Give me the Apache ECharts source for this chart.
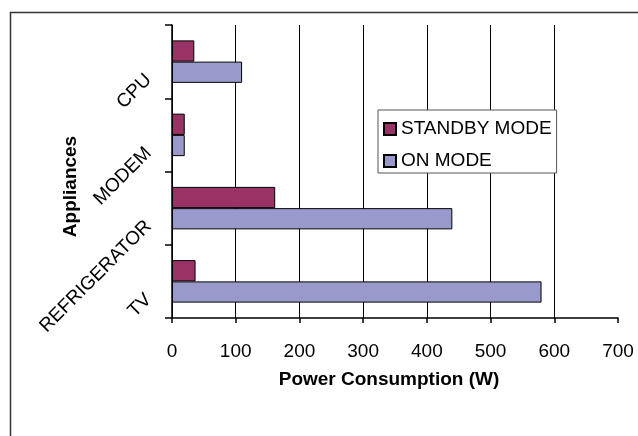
<!DOCTYPE html>
<html>
<head>
<meta charset="utf-8">
<script src="https://cdn.jsdelivr.net/npm/echarts@6/dist/echarts.min.js"></script>
<style>html,body{margin:0;padding:0;background:#fff}#c{width:638px;height:436px}</style>
</head>
<body>
<div id="c"></div>
<script>
var categories = ['CPU', 'MODEM', 'REFRIGERATOR', 'TV'];
var standbyMode = [35, 20, 162, 37];
var onMode = [110, 20, 440, 580];
var seriesNames = ['STANDBY MODE', 'ON MODE'];
var xTicks = [0, 100, 200, 300, 400, 500, 600, 700];

var chart = echarts.init(document.getElementById('c'), null, {renderer: 'canvas'});
var font = 'Liberation Sans, Arial, sans-serif';
chart.setOption({
  animation: false,
  backgroundColor: '#fff',
  textStyle: {fontFamily: font},
  graphic: [{
    type: 'rect', silent: true, z: -1,
    shape: {x: 10.5, y: 12.5, width: 700, height: 500},
    style: {fill: 'none', stroke: '#333', lineWidth: 1.5}
  }],
  grid: {left: 172, right: 20, top: 25, bottom: 118, containLabel: false, outerBoundsMode: 'none'},
  legend: {
    orient: 'vertical', left: 378, top: 110,
    data: seriesNames,
    backgroundColor: '#fff', borderColor: '#555', borderWidth: 1,
    padding: [9, 5, 2, 5],
    itemWidth: 12, itemHeight: 12, itemGap: 12,
    icon: 'rect',
    textStyle: {fontFamily: font, fontSize: 19, color: '#000', lineHeight: 20}
  },
  xAxis: {
    type: 'value', min: xTicks[0], max: xTicks[xTicks.length - 1], interval: 100,
    name: 'Power Consumption (W)', nameLocation: 'middle', nameGap: 52, nameMoveOverlap: false,
    nameTextStyle: {fontFamily: font, fontSize: 19, fontWeight: 'bold', color: '#000', padding: [0, 12, 0, 0]},
    axisLine: {show: true, lineStyle: {color: '#000', width: 1.5}},
    axisTick: {show: true, length: 5, lineStyle: {color: '#000', width: 1.5}},
    axisLabel: {fontFamily: font, fontSize: 19, color: '#000', margin: 24, lineHeight: 20},
    splitLine: {show: true, showMaxLine: false, lineStyle: {color: '#000', width: 1}}
  },
  yAxis: {
    type: 'category', data: categories, inverse: true,
    name: 'Appliances', nameLocation: 'middle', nameGap: 92, nameRotate: 90, nameMoveOverlap: false,
    nameTextStyle: {fontFamily: font, fontSize: 19, fontWeight: 'bold', color: '#000', padding: [0, 30, 0, 0]},
    axisLine: {show: true, lineStyle: {color: '#000', width: 1.5}},
    axisTick: {show: true, length: 7, lineStyle: {color: '#000', width: 1.5}},
    axisLabel: {fontFamily: font, fontSize: 19, color: '#000', rotate: 45, interval: 0, hideOverlap: false,
      margin: 8, padding: [48, 22, 0, 0], lineHeight: 20}
  },
  series: [{
    name: seriesNames[0], type: 'bar', data: standbyMode,
    barGap: '0%', barCategoryGap: '42%',
    itemStyle: {color: '#993366', borderColor: '#000', borderWidth: 1}
  }, {
    name: seriesNames[1], type: 'bar', data: onMode,
    barGap: '0%', barCategoryGap: '42%',
    itemStyle: {color: '#9999CC', borderColor: '#000', borderWidth: 1}
  }]
});
</script>
</body>
</html>
